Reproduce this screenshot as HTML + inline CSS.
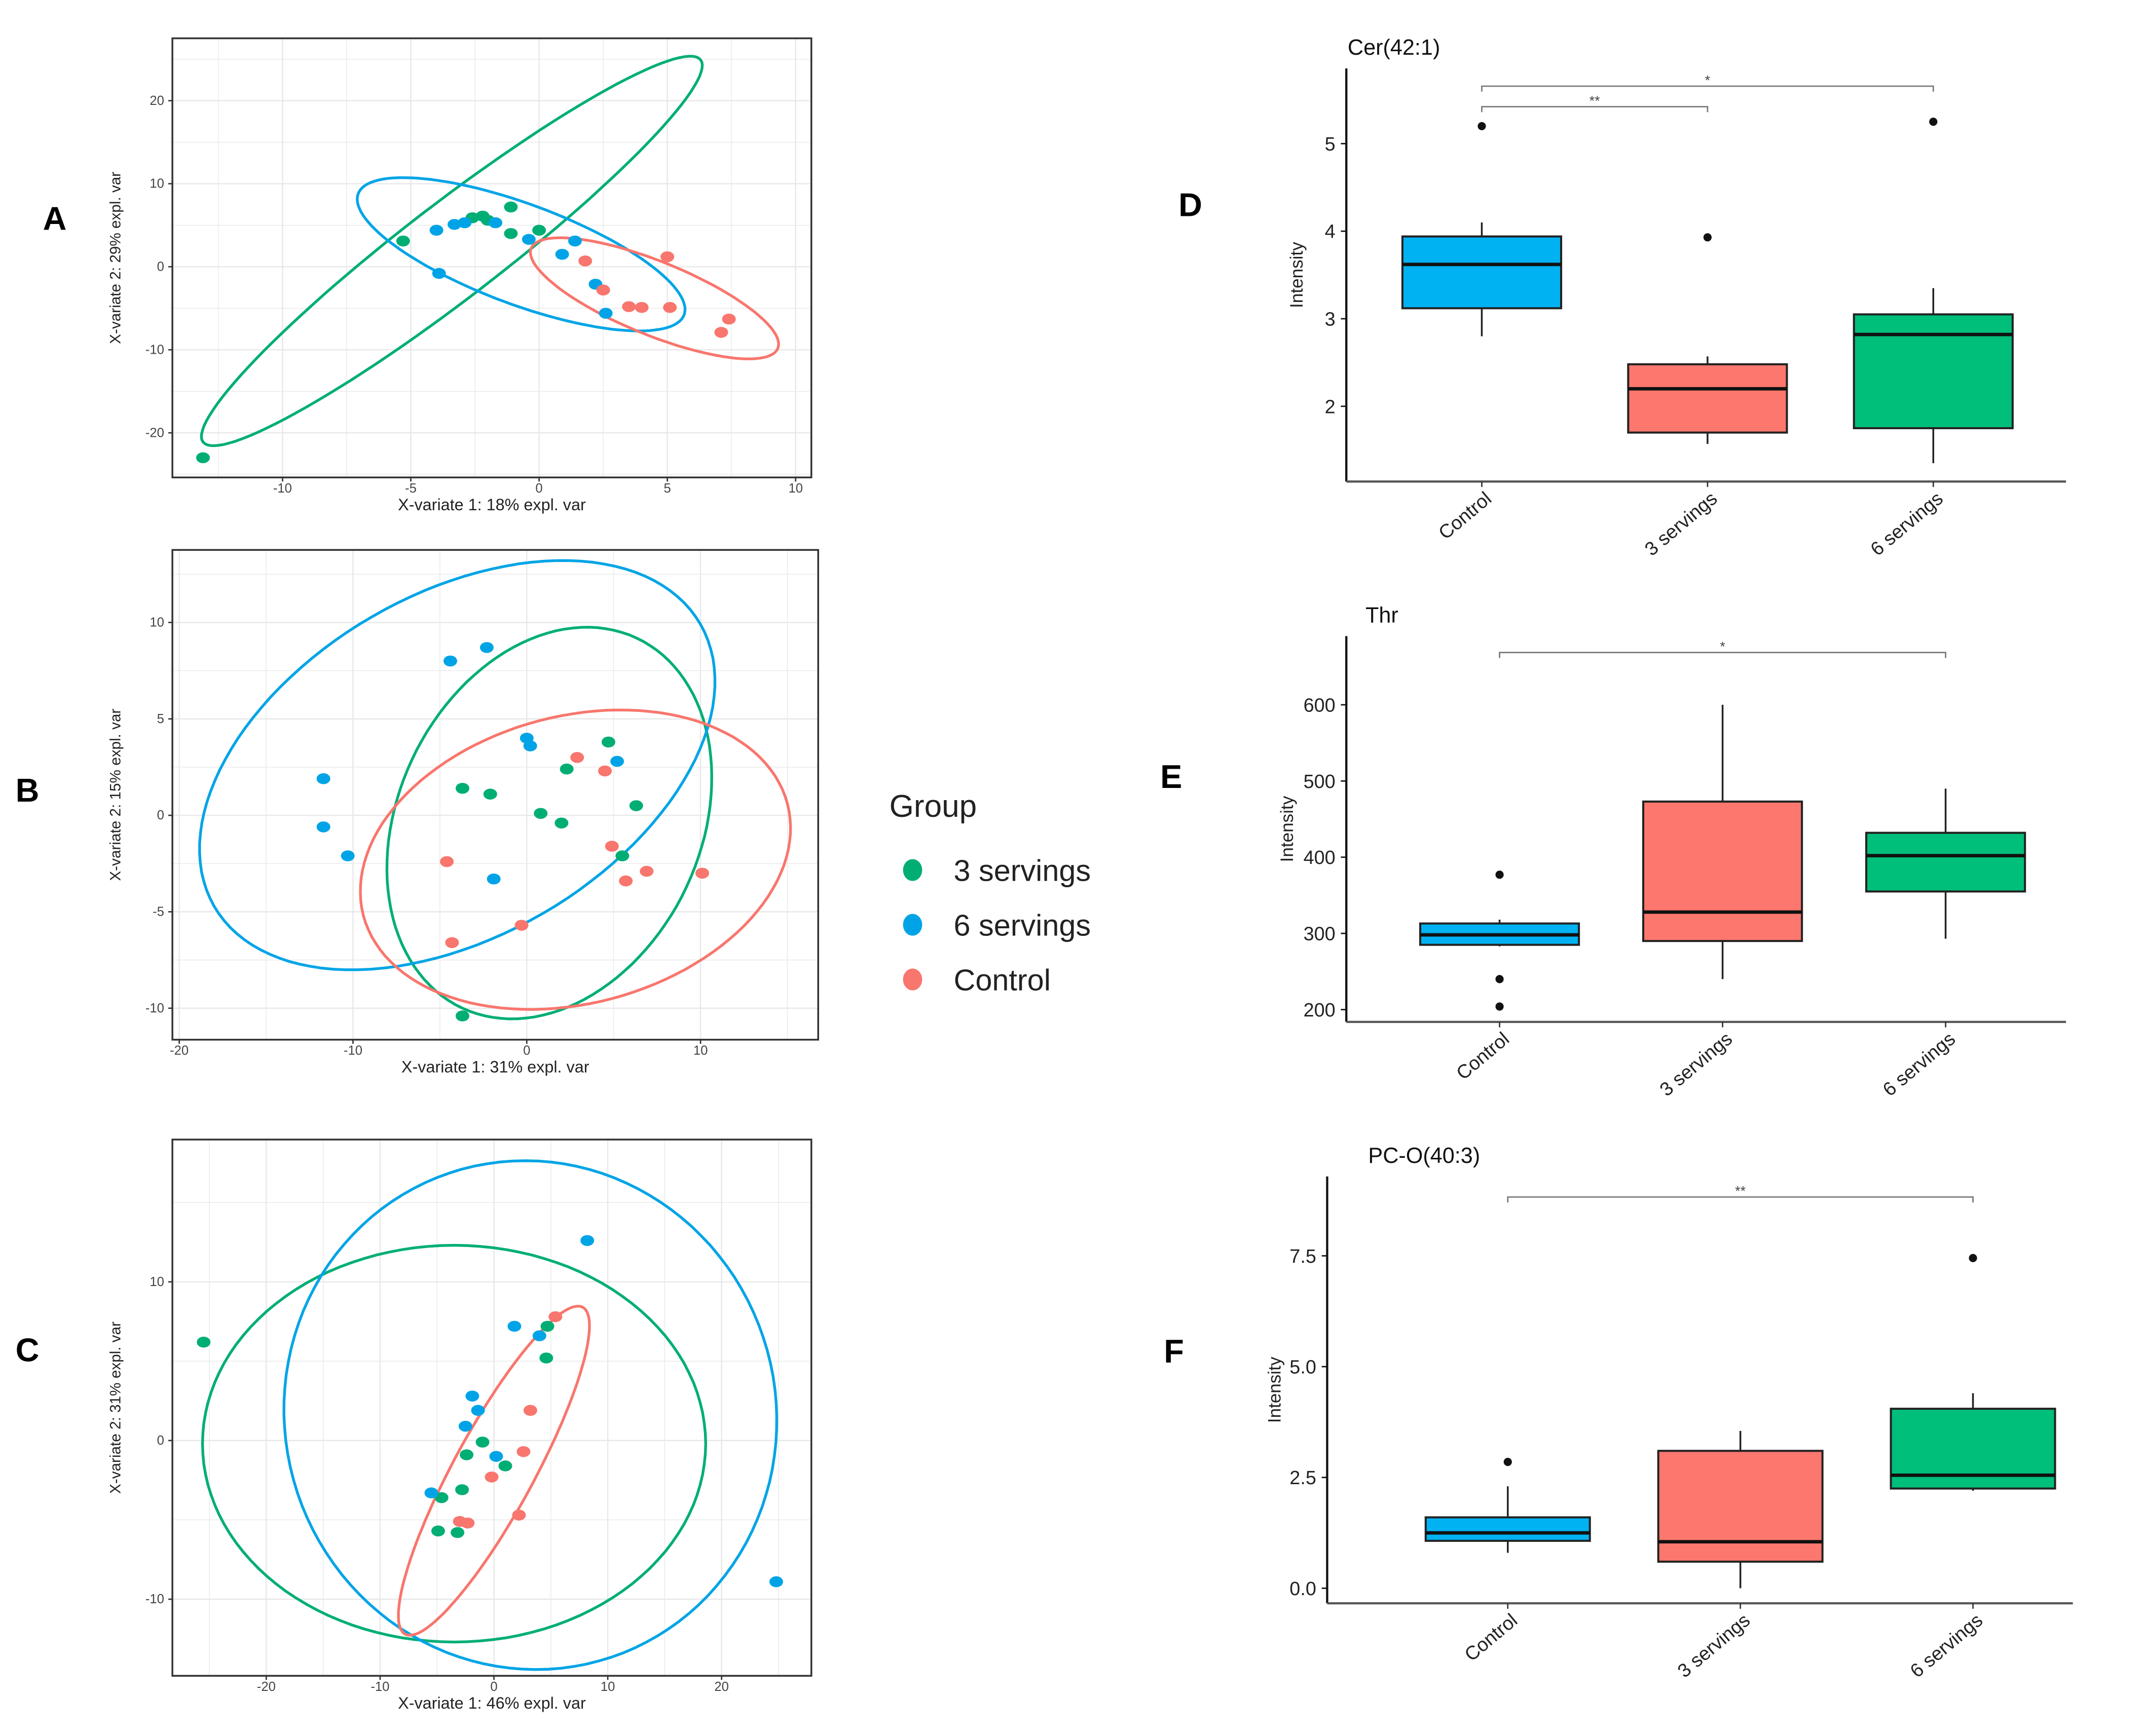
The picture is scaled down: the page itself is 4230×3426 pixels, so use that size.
<!DOCTYPE html>
<html><head><meta charset="utf-8"><style>
html,body{margin:0;padding:0;background:#fff;}
svg{display:block;font-family:"Liberation Sans",Arial,sans-serif;}
</style></head><body>
<svg id="fig" width="4230" height="3426" viewBox="0 0 1567 1269" preserveAspectRatio="none" xmlns="http://www.w3.org/2000/svg">
<rect width="1567" height="1269" fill="#fff"/>
</svg>
<script>
// ---------- Scatter data ----------
const aGreen=[[-13.1,-23],[-5.3,3.1],[-2.6,5.9],[-2.2,6.1],[-2,5.6],[-1.1,7.2],[-1.1,4],[0,4.4]];
const aBlue=[[-4,4.4],[-3.9,-0.8],[-3.3,5.1],[-2.9,5.3],[-1.7,5.3],[-0.4,3.3],[1.4,3.1],[0.9,1.5],[2.2,-2.1],[2.6,-5.6]];
const aRed=[[1.8,0.7],[2.5,-2.8],[3.5,-4.8],[4,-4.9],[5.1,-4.9],[5,1.2],[7.4,-6.3],[7.1,-7.9]];
const aEllGreen=[-3.4,1.9,9.7,23,1.1,-4.6];
const aEllBlue=[-0.7,1.5,6.35,-5.9,-0.7,7.1];
const aEllRed=[4.5,-3.8,4.8,-4.9,-0.6,5.4];
const aXTicks=[-10,-5,0,5,10];
const aYTicks=[20,10,0,-10,-20];

const bGreen=[[-3.7,1.4],[-2.1,1.1],[0.8,0.1],[2.0,-0.4],[2.3,2.4],[4.7,3.8],[6.3,0.5],[5.5,-2.1],[-3.7,-10.4]];
const bBlue=[[-4.4,8],[-2.3,8.7],[-11.7,1.9],[-11.7,-0.6],[-10.3,-2.1],[0,4],[0.2,3.6],[5.2,2.8],[-1.9,-3.3]];
const bRed=[[2.9,3],[4.5,2.3],[-4.6,-2.4],[-4.3,-6.6],[-0.3,-5.7],[4.9,-1.6],[6.9,-2.9],[5.7,-3.4],[10.1,-3]];
const bEllGreen=[1.3,-0.4,5,9.6,7.9,-3.3];
const bEllBlue=[-4,2.6,14,7.3,4.9,-7.7];
const bEllRed=[2.8,-2.3,12.2,2.9,2.1,-7.2];
const bXTicks=[-20,-10,0,10];
const bYTicks=[10,5,0,-5,-10];

const cGreen=[[-25.5,6.2],[4.7,7.2],[4.6,5.2],[-1,-0.1],[-2.4,-0.9],[1,-1.6],[-2.8,-3.1],[-4.6,-3.6],[-4.9,-5.7],[-3.2,-5.8]];
const cBlue=[[8.2,12.6],[1.8,7.2],[4,6.6],[-1.9,2.8],[-1.4,1.9],[-2.5,0.9],[0.2,-1],[-5.5,-3.3],[24.8,-8.9]];
const cRed=[[5.4,7.8],[3.2,1.9],[2.6,-0.7],[-0.2,-2.3],[2.2,-4.7],[-3,-5.1],[-2.3,-5.2]];
const cEllGreen=[-3.5,-0.2,22.1,0,0,12.5];
const cEllBlue=[3.2,1.6,-6,15.5,20.8,4.1];
const cEllRed=[0,-1.9,7.8,10.3,3.1,-1.2];
const cXTicks=[-20,-10,0,10,20];
const cYTicks=[10,0,-10];

// ---------- Boxplot data: [low, q1, median, q3, high] ----------
const boxCategories=["Control","3 servings","6 servings"];
const dStats=[[2.8,3.12,3.62,3.94,4.1],[1.57,1.7,2.2,2.48,2.57],[1.35,1.75,2.82,3.05,3.35]];
const dOutliers=[[5.2],[3.93],[5.25]];
const dTicks=[2,3,4,5];
const eStats=[[283,285,298,313,318],[240,290,328,473,600],[293,355,402,432,490]];
const eOutliers=[[377,240,204],[],[]];
const eTicks=[200,300,400,500,600];
const fStats=[[0.8,1.07,1.25,1.6,2.3],[0,0.6,1.05,3.1,3.55],[2.2,2.25,2.55,4.05,4.4]];
const fOutliers=[[2.85],[],[7.45]];
const fTicks=[0,2.5,5,7.5];
const fTickLabels=["0.0","2.5","5.0","7.5"];

const COL={g:"#00ae75",b:"#00a4e6",r:"#f8766d"};
const BOXCOL=["#00b2f1","#fc776d","#00bf7a"];
const svg=document.getElementById('fig');
const NS="http://www.w3.org/2000/svg";
function mk(tag,attrs,parent){const e=document.createElementNS(NS,tag);for(const k in attrs)e.setAttribute(k,attrs[k]);(parent||svg).appendChild(e);return e;}

function scatter(cfg){
  const g=mk('g',{});
  
  
  const X=v=>cfg.x0+v*cfg.kx, Y=v=>cfg.y0-v*cfg.ky;
  const step=(cfg.xt[1]-cfg.xt[0])/2;
  for(let v=cfg.xt[0]-step*2;v<=cfg.xt[cfg.xt.length-1]+step*2;v+=step){const px=X(v);if(px>cfg.L&&px<cfg.R)mk('line',{x1:px,x2:px,y1:cfg.T,y2:cfg.B,stroke:'#e8e8e8','stroke-width':Math.abs(v/step)%2<0.01?0.9:0.5},g);}
  const ys=Math.abs(cfg.yt[0]-cfg.yt[1])/2;
  for(let v=-60;v<=60;v+=ys){const py=Y(v);if(py>cfg.T&&py<cfg.B)mk('line',{x1:cfg.L,x2:cfg.R,y1:py,y2:py,stroke:'#e8e8e8','stroke-width':Math.abs(v/ys)%2<0.01?0.9:0.5},g);}
  [[cfg.eg,COL.g],[cfg.eb,COL.b],[cfg.er,COL.r]].forEach(([e,c],i)=>{
    let d='';for(let k=0;k<=120;k++){const t=k/120*2*Math.PI;const vx=e[0]+e[2]*Math.cos(t)+e[4]*Math.sin(t);const vy=e[1]+e[3]*Math.cos(t)+e[5]*Math.sin(t);d+=(k?'L':'M')+X(vx).toFixed(1)+','+Y(vy).toFixed(1);}
    const p=mk('path',{d:d+'Z',fill:'none',stroke:c,'stroke-width':2},g);
    
    
  });
  [[cfg.pg,COL.g,'3-servings'],[cfg.pb,COL.b,'6-servings'],[cfg.pr,COL.r,'control']].forEach(([pts,c,n])=>{
    pts.forEach(p=>{const e=mk('ellipse',{cx:X(p[0]),cy:Y(p[1]),rx:5,ry:4,fill:c},g);
      
      });
  });
  mk('rect',{x:cfg.L,y:cfg.T,width:cfg.R-cfg.L,height:cfg.B-cfg.T,fill:'none',stroke:'#333','stroke-width':1.3},g);
  cfg.xt.forEach(v=>{mk('line',{x1:X(v),x2:X(v),y1:cfg.B,y2:cfg.B+3,stroke:'#333'},g);const t=mk('text',{x:X(v),y:cfg.B+11,'font-size':9.5,'text-anchor':'middle',fill:'#444'},g);t.textContent=v;});
  cfg.yt.forEach(v=>{mk('line',{x1:cfg.L-3,x2:cfg.L,y1:Y(v),y2:Y(v),stroke:'#333'},g);const t=mk('text',{x:cfg.L-6,y:Y(v)+3,'font-size':9.5,'text-anchor':'end',fill:'#444'},g);t.textContent=v;});
  const xl=mk('text',{x:(cfg.L+cfg.R)/2,y:cfg.B+24,'font-size':12,'text-anchor':'middle',fill:'#222'},g);xl.textContent=cfg.xlab;
  
  const yl=mk('text',{x:0,y:0,'font-size':11,'text-anchor':'middle',fill:'#222',transform:`translate(${cfg.L-38},${(cfg.T+cfg.B)/2}) rotate(-90)`},g);yl.textContent=cfg.ylab;
  
}
scatter({name:'scatter-a',L:126,R:593,T:28,B:349,x0:394,kx:18.75,y0:195,ky:6.07,xt:aXTicks,yt:aYTicks,pg:aGreen,pb:aBlue,pr:aRed,eg:aEllGreen,eb:aEllBlue,er:aEllRed,xlab:'X-variate 1: 18% expl. var',ylab:'X-variate 2: 29% expl. var'});
scatter({name:'scatter-b',L:126,R:598,T:402,B:760,x0:385,kx:12.7,y0:596,ky:14.1,xt:bXTicks,yt:bYTicks,pg:bGreen,pb:bBlue,pr:bRed,eg:bEllGreen,eb:bEllBlue,er:bEllRed,xlab:'X-variate 1: 31% expl. var',ylab:'X-variate 2: 15% expl. var'});
scatter({name:'scatter-c',L:126,R:593,T:833,B:1225,x0:361,kx:8.32,y0:1053,ky:11.6,xt:cXTicks,yt:cYTicks,pg:cGreen,pb:cBlue,pr:cRed,eg:cEllGreen,eb:cEllBlue,er:cEllRed,xlab:'X-variate 1: 46% expl. var',ylab:'X-variate 2: 31% expl. var'});

function boxplot(cfg){
  const g=mk('g',{});
  
  
  const Y=v=>cfg.y0-v*cfg.ky;
  const t=mk('text',{x:cfg.tx,y:cfg.ty,'font-size':16,fill:'#111'},g);t.textContent=cfg.title;
  
  mk('line',{x1:cfg.L,x2:cfg.L,y1:cfg.T,y2:cfg.B,stroke:'#111','stroke-width':1.6},g);
  mk('line',{x1:cfg.L,x2:cfg.R,y1:cfg.B,y2:cfg.B,stroke:'#555','stroke-width':1.6},g);
  cfg.ticks.forEach((v,i)=>{mk('line',{x1:cfg.L-4,x2:cfg.L,y1:Y(v),y2:Y(v),stroke:'#111'},g);const l=mk('text',{x:cfg.L-8,y:Y(v)+5,'font-size':14,'text-anchor':'end',fill:'#222'},g);l.textContent=cfg.tl?cfg.tl[i]:v;});
  const yl=mk('text',{x:0,y:0,'font-size':13,'text-anchor':'middle',fill:'#222',transform:`translate(${cfg.ylx},${(cfg.T+cfg.B)/2}) rotate(-90)`},g);yl.textContent='Intensity';
  
  boxCategories.forEach((c,i)=>{
    const cx=cfg.x1+i*cfg.dx,s=cfg.stats[i],w=cfg.w;
    mk('line',{x1:cx,x2:cx,y1:Y(s[0]),y2:Y(s[4]),stroke:'#222','stroke-width':1.3},g);
    const r=mk('rect',{x:cx-w,y:Y(s[3]),width:2*w,height:Y(s[1])-Y(s[3]),fill:BOXCOL[i],stroke:'#222','stroke-width':1.5},g);
    
    
    mk('line',{x1:cx-w,x2:cx+w,y1:Y(s[2]),y2:Y(s[2]),stroke:'#111','stroke-width':2.5},g);
    cfg.out[i].forEach(o=>{const d=mk('circle',{cx:cx,cy:Y(o),r:3,fill:'#111'},g);});
    mk('line',{x1:cx,x2:cx,y1:cfg.B,y2:cfg.B+4,stroke:'#333'},g);
    const l=mk('text',{x:0,y:0,'font-size':14,'text-anchor':'end',fill:'#222',transform:`translate(${cx+8},${cfg.B+14}) rotate(-40)`},g);l.textContent=c;
    
  });
  cfg.sig.forEach(sg=>{
    const xa=cfg.x1+sg[0]*cfg.dx,xb=cfg.x1+sg[1]*cfg.dx;
    mk('path',{d:`M${xa},${sg[2]+4}V${sg[2]}H${xb}V${sg[2]+4}`,fill:'none',stroke:'#777','stroke-width':1},g);
    const s=mk('text',{x:(xa+xb)/2,y:sg[2]-1,'font-size':10,'text-anchor':'middle',fill:'#444'},g);s.textContent=sg[3];
    
  });
}
boxplot({name:'boxplot-d',title:'Cer(42:1)',tx:985,ty:40,L:984,R:1510,T:50,B:352,y0:105+5*64,ky:64,ticks:dTicks,x1:1083,dx:165,w:58,stats:dStats,out:dOutliers,ylx:952,sig:[[0,1,78,'**'],[0,2,63,'*']]});
boxplot({name:'boxplot-e',title:'Thr',tx:998,ty:455,L:984,R:1510,T:465,B:747,y0:738+200*0.557,ky:0.557,ticks:eTicks,x1:1096,dx:163,w:58,stats:eStats,out:eOutliers,ylx:945,sig:[[0,2,477,'*']]});
boxplot({name:'boxplot-f',title:'PC-O(40:3)',tx:1000,ty:850,L:970,R:1515,T:860,B:1172,y0:1161,ky:32.4,ticks:fTicks,tl:fTickLabels,x1:1102,dx:170,w:60,stats:fStats,out:fOutliers,ylx:936,sig:[[0,2,875,'**']]});

const lg=mk('g',{});


const lt=mk('text',{x:650,y:597,'font-size':23,fill:'#222'},lg);lt.textContent='Group';

[['3 servings',COL.g],['6 servings',COL.b],['Control',COL.r]].forEach((e,i)=>{
  const y=636+i*40;
  mk('ellipse',{cx:667,cy:y,rx:7,ry:8,fill:e[1]},lg);
  const t=mk('text',{x:697,y:y+8,'font-size':22,fill:'#222'},lg);t.textContent=e[0];
  
});
[['A',40,160],['B',20,578],['C',20,987],['D',870,150],['E',856,568],['F',858,988]].forEach(p=>{
  const t=mk('text',{x:p[1],y:p[2]+8,'font-size':24,'font-weight':'bold','text-anchor':'middle',fill:'#000'});t.textContent=p[0];
  
  
});
</script>
</body></html>
